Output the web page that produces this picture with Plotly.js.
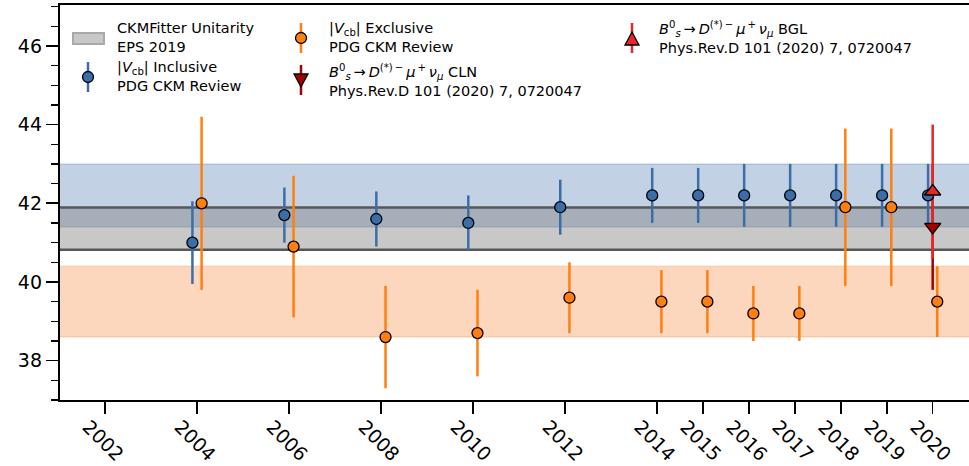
<!DOCTYPE html>
<html>
<head>
<meta charset="utf-8">
<script src="https://cdn.plot.ly/plotly-3.0.1.min.js"></script>
<style>html,body{margin:0;padding:0;background:#fff;}</style>
</head>
<body>
<div id="chart" style="width:969px;height:466px;"></div>
<script>
// |Vcb| x 10^3 by PDG review year
const years = [2004, 2006, 2008, 2010, 2012, 2014, 2015, 2016, 2017, 2018, 2019, 2020];
const inclusiveVcb = [41.0, 41.7, 41.6, 41.5, 41.9, 42.2, 42.2, 42.2, 42.2, 42.2, 42.2, 42.2];
const inclusiveErr = [1.05, 0.7, 0.7, 0.7, 0.7, 0.7, 0.7, 0.8, 0.8, 0.8, 0.8, 0.8];
const exclusiveVcb = [42.0, 40.9, 38.6, 38.7, 39.6, 39.5, 39.5, 39.2, 39.2, 41.9, 41.9, 39.5];
const exclusiveErr = [2.2, 1.8, 1.3, 1.1, 0.9, 0.8, 0.8, 0.7, 0.7, 2.0, 2.0, 0.9];

// LHCb Bs0 -> Ds(*)- mu+ nu results
const lhcbYear = [2020];
const clnVcb = [41.4];
const clnErr = [1.6];
const bglVcb = [42.3];
const bglErr = [1.7];

// Bands: [low, high]
const inclusiveBand = [41.4, 43.0];
const exclusiveBand = [38.6, 40.4];
const ckmFitterBand = [40.82, 41.89];

const xTickVals = [2002, 2004, 2006, 2008, 2010, 2012, 2014, 2015, 2016, 2017, 2018, 2019, 2020];
const xTickText = xTickVals.map(String);

const BLUE = '#3b6ea8';
const ORANGE = '#ff7f0e';
const DARKRED = '#a40000';
const RED = '#e8262a';
const FONT = 'DejaVu Sans, Liberation Sans, sans-serif';

const shift = 0.1;
const xIncl = years.map(v => v - shift);
const xExcl = years.map(v => v + shift);

function bars(x, y, err, color) {
  return {
    type: 'scatter', mode: 'markers', x: x, y: y, showlegend: false, hoverinfo: 'skip',
    marker: {size: 1, opacity: 0},
    error_y: {type: 'data', array: err, visible: true, color: color, thickness: 2.5, width: 0}
  };
}
function points(x, y, color, symbol, size) {
  return {
    type: 'scatter', mode: 'markers', x: x, y: y, showlegend: false,
    marker: {color: color, symbol: symbol, size: size, line: {color: '#000', width: 1.3}}
  };
}

const data = [
  bars(xIncl, inclusiveVcb, inclusiveErr, BLUE),
  bars(xExcl, exclusiveVcb, exclusiveErr, ORANGE),
  bars(lhcbYear, clnVcb, clnErr, DARKRED),
  bars(lhcbYear, bglVcb, bglErr, RED),
  points(xIncl, inclusiveVcb, BLUE, 'circle', 11),
  points(xExcl, exclusiveVcb, ORANGE, 'circle', 11),
  points(lhcbYear, bglVcb, RED, 'triangle-up', 14),
  points(lhcbYear, clnVcb, DARKRED, 'triangle-down', 14)
];

// plot-area geometry in pixels, used to place the legend block
const PL = 60, PR = 969, PT = 5, PB = 400;
const fx = px => (px - PL) / (PR - PL);
const fy = py => (PB - py) / (PB - PT);

function band(range, fill) {
  return {
    type: 'rect', xref: 'paper', yref: 'y', x0: 0, x1: 1, y0: range[0], y1: range[1],
    fillcolor: fill, line: {width: 0}, layer: 'below'
  };
}
function hline(yv, color, width) {
  return {type: 'line', xref: 'paper', yref: 'y', x0: 0, x1: 1, y0: yv, y1: yv,
          line: {color: color, width: width}, layer: 'below'};
}

const shapes = [
  band(inclusiveBand, 'rgba(59,110,168,0.31)'),
  hline(inclusiveBand[0], 'rgba(59,110,168,0.22)', 1.5),
  hline(inclusiveBand[1], 'rgba(59,110,168,0.22)', 1.5),
  band(exclusiveBand, 'rgba(245,140,70,0.35)'),
  hline(exclusiveBand[0], 'rgba(245,140,70,0.25)', 1.5),
  hline(exclusiveBand[1], 'rgba(245,140,70,0.25)', 1.5),
  band(ckmFitterBand, 'rgba(128,128,128,0.43)'),
  hline(ckmFitterBand[0], '#555855', 2.5),
  hline(ckmFitterBand[1], '#555855', 2.5)
];

// legend keys
function keyLine(px, py0, py1, color) {
  shapes.push({type: 'line', xref: 'paper', yref: 'paper', x0: fx(px), x1: fx(px),
               y0: fy(py0), y1: fy(py1), line: {color: color, width: 2.5}});
}
function keyCircle(px, py, color) {
  shapes.push({type: 'circle', xref: 'paper', yref: 'paper', xsizemode: 'pixel', ysizemode: 'pixel',
               xanchor: fx(px), yanchor: fy(py), x0: -5.5, x1: 5.5, y0: -5.5, y1: 5.5,
               fillcolor: color, line: {color: '#000', width: 1.3}});
}
function keyTriangle(px, py, color, up) {
  const s = up ? 1 : -1;
  const path = `M -7 ${-6 * s} L 7 ${-6 * s} L 0 ${7 * s} Z`;
  shapes.push({type: 'path', xref: 'paper', yref: 'paper', xsizemode: 'pixel', ysizemode: 'pixel',
               xanchor: fx(px), yanchor: fy(py), path: path,
               fillcolor: color, line: {color: '#000', width: 1.3}});
}

shapes.push({type: 'rect', xref: 'paper', yref: 'paper', x0: fx(73), x1: fx(104), y0: fy(44), y1: fy(33),
             fillcolor: '#c8c8c8', line: {color: '#a9a9a9', width: 2}});
keyLine(88, 62, 92, BLUE);
keyCircle(88, 77, BLUE);
keyLine(301, 23, 53, ORANGE);
keyCircle(301, 38, ORANGE);
keyLine(301, 65, 95, DARKRED);
keyTriangle(301, 80, DARKRED, false);
keyLine(632, 23, 53, RED);
keyTriangle(632, 39, RED, true);

const decay = '<i>B</i><sup>0</sup><sub><i>s</i></sub>\u2009→\u2009<i>D</i><sup>(*)\u2009−</sup>\u2009<i>μ</i><sup>\u2009+</sup>\u2009<i>ν</i><sub><i>μ</i></sub>';
const ref = 'Phys.Rev.D 101 (2020) 7, 0720047';
const legendText = [
  {px: 115, py: 37, text: 'CKMFitter Unitarity<br>EPS 2019'},
  {px: 115, py: 77, text: '|<i>V</i><sub>cb</sub>| Inclusive<br>PDG CKM Review'},
  {px: 327, py: 37, text: '|<i>V</i><sub>cb</sub>| Exclusive<br>PDG CKM Review'},
  {px: 327, py: 80, text: decay + ' CLN<br>' + ref},
  {px: 657, py: 37, text: decay + ' BGL<br>' + ref}
];
const annotations = legendText.map(t => ({
  xref: 'paper', yref: 'paper', x: fx(t.px), y: fy(t.py), xanchor: 'left', yanchor: 'middle',
  align: 'left', showarrow: false, text: t.text,
  font: {family: FONT, size: 14.5, color: '#000'}
}));

const layout = {
  width: 969, height: 466,
  margin: {l: PL, r: 969 - PR, t: PT, b: 466 - PB, pad: 0},
  paper_bgcolor: '#fff', plot_bgcolor: '#fff',
  showlegend: false,
  font: {family: FONT, color: '#000'},
  xaxis: {
    range: [2001.02, 2020.79], tickmode: 'array', tickvals: xTickVals, ticktext: xTickText,
    tickangle: 45, ticks: 'outside', ticklen: 12, tickwidth: 1.6, tickcolor: '#000',
    ticklabelshift: -17, ticklabelstandoff: -6,
    showline: true, linecolor: '#000', linewidth: 2.2, mirror: true,
    showgrid: false, zeroline: false,
    tickfont: {family: FONT, size: 19, color: '#000'}
  },
  yaxis: {
    range: [37.0, 47.04], tickmode: 'linear', tick0: 0, dtick: 2,
    ticks: 'outside', ticklen: 12, tickwidth: 1.6, tickcolor: '#000',
    minor: {dtick: 0.5, tick0: 0, ticks: 'outside', ticklen: 7, tickwidth: 1.4, tickcolor: '#000', showgrid: false},
    showline: true, linecolor: '#000', linewidth: 2.2,
    showgrid: false, zeroline: false,
    tickfont: {family: FONT, size: 19, color: '#000'}
  },
  shapes: shapes,
  annotations: annotations
};

Plotly.newPlot('chart', data, layout, {displayModeBar: false, staticPlot: true});
</script>
</body>
</html>
